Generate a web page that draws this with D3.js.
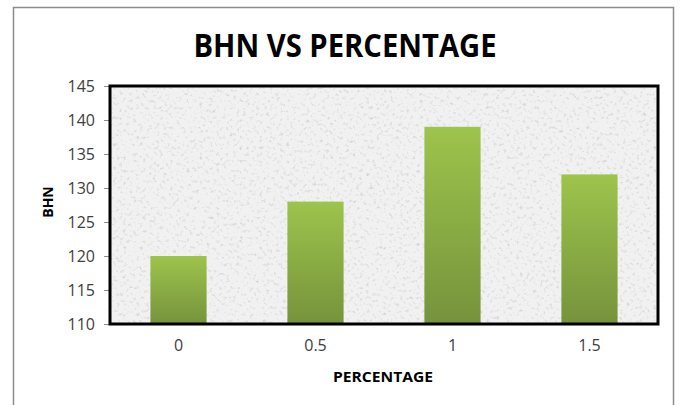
<!DOCTYPE html>
<html>
<head>
<meta charset="utf-8">
<script src="https://cdn.jsdelivr.net/npm/d3@7"></script>
<style>
  html, body { margin: 0; padding: 0; background: #fff; }
  svg { display: block; }
</style>
</head>
<body>
<svg id="chart" width="681" height="405"></svg>
<script>
// Hardness (BHN) against additive percentage
const categories = ["0", "0.5", "1", "1.5"];
const bhnValues = [120, 128, 139, 132];
const yTicks = [110, 115, 120, 125, 130, 135, 140, 145];

const svg = d3.select("#chart");
const plot = { left: 110, top: 86, right: 658, bottom: 324 };

const defs = svg.append("defs");

// green bar fill, light at the top fading darker toward the base
const grad = defs.append("linearGradient")
  .attr("id", "barFill").attr("x1", 0).attr("y1", 0).attr("x2", 0).attr("y2", 1);
grad.append("stop").attr("offset", "0%").attr("stop-color", "#9dc44c");
grad.append("stop").attr("offset", "100%").attr("stop-color", "#76933c");

// granite-like speckled fill for the plot area
const granite = defs.append("filter").attr("id", "granite")
  .attr("x", 0).attr("y", 0).attr("width", "100%").attr("height", "100%");
granite.append("feTurbulence")
  .attr("type", "fractalNoise").attr("baseFrequency", 0.3)
  .attr("numOctaves", 3).attr("seed", 7).attr("result", "noise");
granite.append("feColorMatrix").attr("in", "noise").attr("type", "matrix")
  .attr("values", "0 0 0 0 0.62  0 0 0 0 0.62  0 0 0 0 0.62  -3 0 0 0 1.35")
  .attr("result", "specks");
granite.append("feComposite").attr("in", "specks").attr("in2", "SourceGraphic").attr("operator", "in");

// chart frame
svg.append("rect")
  .attr("x", 13.5).attr("y", 7.5).attr("width", 660).attr("height", 420)
  .attr("fill", "#fff").attr("stroke", "#8c8c8c").attr("stroke-width", 1.5);

const x = d3.scaleBand().domain(categories)
  .range([plot.left, plot.right]).paddingInner(0.59).paddingOuter(0.295);
const y = d3.scaleLinear().domain([110, 145]).range([plot.bottom, plot.top]);

// plot background
svg.append("rect")
  .attr("x", plot.left).attr("y", plot.top)
  .attr("width", plot.right - plot.left).attr("height", plot.bottom - plot.top)
  .attr("fill", "#f1f1f1");
svg.append("rect")
  .attr("x", plot.left).attr("y", plot.top)
  .attr("width", plot.right - plot.left).attr("height", plot.bottom - plot.top)
  .attr("fill", "#f2f2f2").attr("filter", "url(#granite)").attr("opacity", 0.85);

// bars
svg.append("g").selectAll("rect")
  .data(bhnValues)
  .join("rect")
  .attr("x", (d, i) => x(categories[i]))
  .attr("y", d => y(d))
  .attr("width", x.bandwidth())
  .attr("height", d => y(110) - y(d))
  .attr("fill", "url(#barFill)");

// y axis ticks and labels
const yAxis = svg.append("g")
  .attr("transform", `translate(${plot.left},0)`)
  .call(d3.axisLeft(y).tickValues(yTicks).tickSize(6).tickPadding(9).tickFormat(d3.format("d")));
yAxis.select(".domain").remove();
yAxis.selectAll(".tick line").attr("stroke", "#8c8c8c");
yAxis.selectAll(".tick text")
  .attr("fill", "#404040")
  .style("font-family", "'Open Sans', 'Noto Sans', sans-serif")
  .style("font-size", "16px");

// x axis labels
const xAxis = svg.append("g")
  .attr("transform", `translate(0,${plot.bottom})`)
  .call(d3.axisBottom(x).tickSize(0).tickPadding(16));
xAxis.select(".domain").remove();
xAxis.selectAll(".tick text")
  .attr("fill", "#404040")
  .style("font-family", "'Open Sans', 'Noto Sans', sans-serif")
  .style("font-size", "16px");

// plot border
svg.append("rect")
  .attr("x", plot.left).attr("y", plot.top)
  .attr("width", plot.right - plot.left).attr("height", plot.bottom - plot.top)
  .attr("fill", "none").attr("stroke", "#000").attr("stroke-width", 3);

// title
svg.append("text")
  .attr("x", 345).attr("y", 57)
  .attr("text-anchor", "middle")
  .attr("textLength", 303).attr("lengthAdjust", "spacingAndGlyphs")
  .style("font-family", "'Open Sans', 'Noto Sans', sans-serif")
  .style("font-weight", "bold").style("font-size", "33px")
  .attr("fill", "#000")
  .text("BHN VS PERCENTAGE");

// axis titles
svg.append("text")
  .attr("x", (plot.left + plot.right) / 2 - 1).attr("y", 382)
  .attr("text-anchor", "middle")
  .attr("textLength", 100).attr("lengthAdjust", "spacingAndGlyphs")
  .style("font-family", "'Open Sans', 'Noto Sans', sans-serif")
  .style("font-weight", "bold").style("font-size", "14px")
  .attr("fill", "#000")
  .text("PERCENTAGE");

svg.append("text")
  .attr("transform", "translate(53,202) rotate(-90)")
  .attr("text-anchor", "middle")
  .style("font-family", "'Open Sans', 'Noto Sans', sans-serif")
  .style("font-weight", "bold").style("font-size", "14px")
  .attr("fill", "#000")
  .text("BHN");
</script>
</body>
</html>
